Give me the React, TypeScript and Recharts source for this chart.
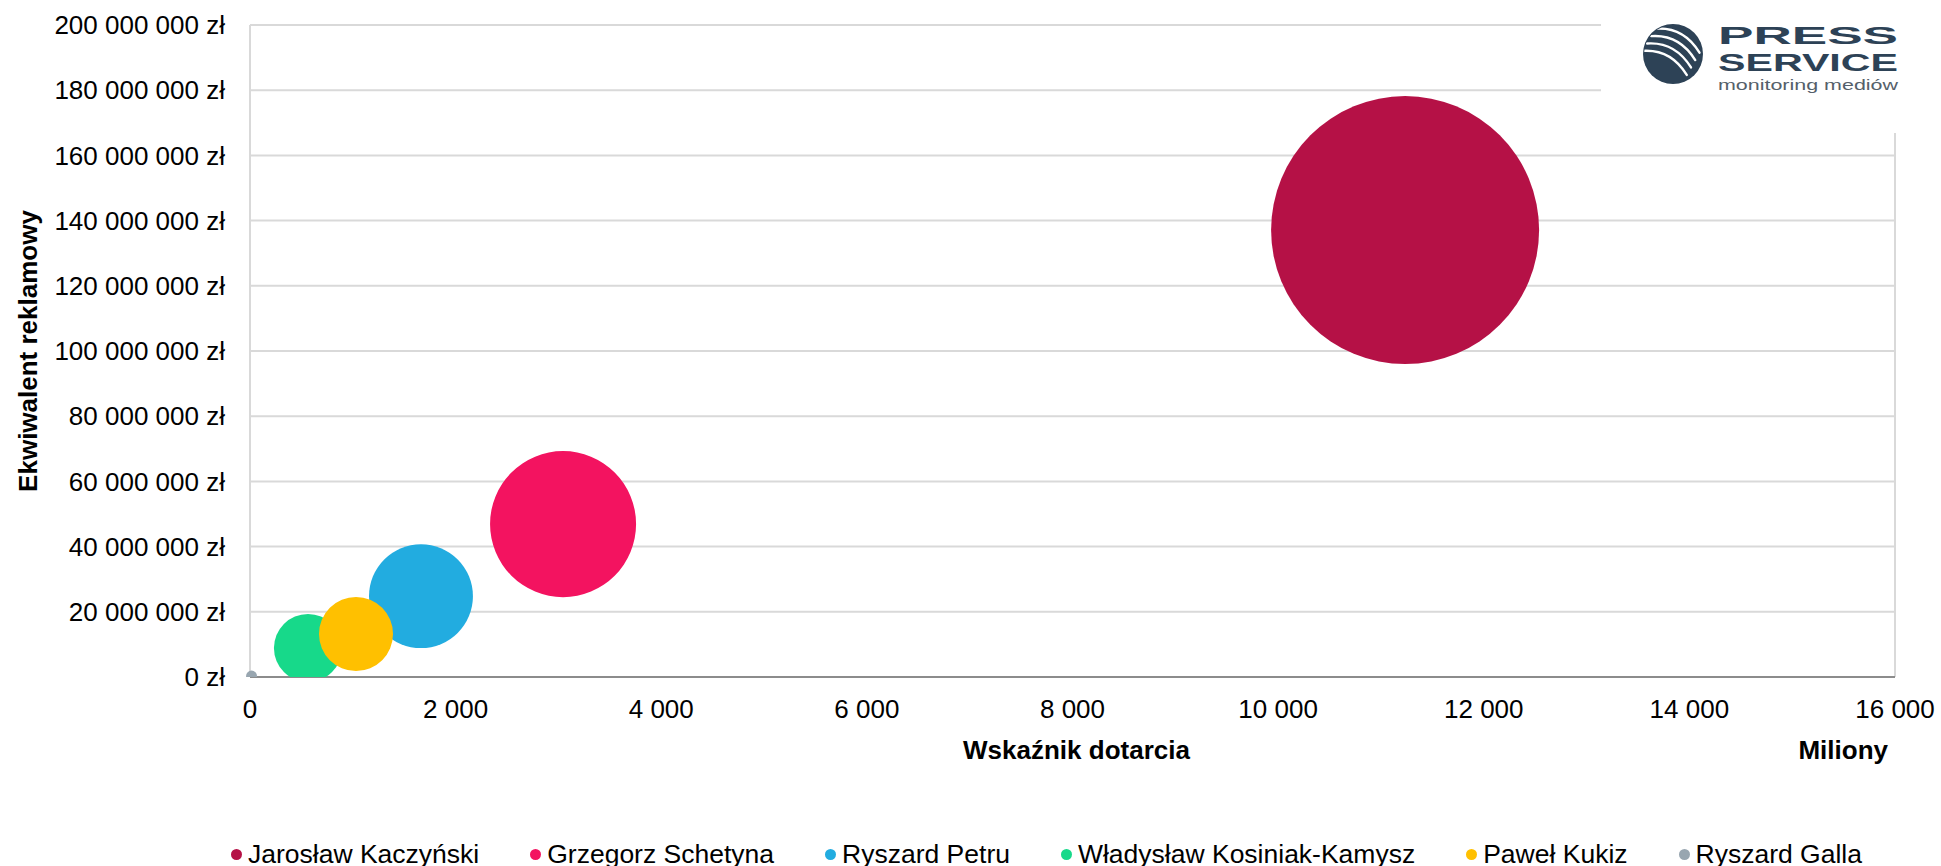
import React from 'react';
import {
  CartesianGrid,
  Label,
  Legend,
  ReferenceLine,
  Scatter,
  ScatterChart,
  XAxis,
  YAxis,
  ZAxis,
} from 'recharts';

const CANDIDATES = [
  'Jarosław Kaczyński',
  'Grzegorz Schetyna',
  'Ryszard Petru',
  'Władysław Kosiniak-Kamysz',
  'Paweł Kukiz',
  'Ryszard Galla',
];
// Wskaźnik dotarcia (miliony)
const REACH = [11235, 3045, 1663, 564, 1031, 15];
// Ekwiwalent reklamowy (zł)
const AD_VALUE = [137100000, 46900000, 24800000, 8900000, 13200000, 300000];
// bubble size
const BUBBLE_SIZE = [1796, 533, 270, 116, 137, 3];
const COLORS = ['#b51146', '#f31360', '#22ace0', '#17d98a', '#ffc000', '#98a6b0'];

const X_TICKS = [0, 2000, 4000, 6000, 8000, 10000, 12000, 14000, 16000];
const Y_TICKS = [0, 20000000, 40000000, 60000000, 80000000, 100000000, 120000000, 140000000, 160000000, 180000000, 200000000];

const FONT = '"Liberation Sans", Arial, sans-serif';
const MAX_RADIUS = 134;

const group = (v: number) => String(v).replace(/\B(?=(\d{3})+(?!\d))/g, ' ');

function LegendContent({ payload }: any) {
  // keep series order (recharts sorts legend items by name)
  const items = [...(payload || [])].sort(
    (a: any, b: any) => CANDIDATES.indexOf(a.value) - CANDIDATES.indexOf(b.value),
  );
  return (
    <div
      style={{
        display: 'flex',
        alignItems: 'center',
        height: 24,
        paddingLeft: 231,
        fontFamily: FONT,
        fontSize: 26.5,
        lineHeight: '24px',
        color: '#000',
      }}
    >
      {items.map((entry: any) => (
        <div key={entry.value} style={{ display: 'flex', alignItems: 'center', marginRight: 51 }}>
          <span
            style={{
              width: 11,
              height: 11,
              borderRadius: '50%',
              background: entry.color,
              marginRight: 6,
              display: 'inline-block',
            }}
          />
          <span style={{ whiteSpace: 'nowrap' }}>{entry.value}</span>
        </div>
      ))}
    </div>
  );
}

function Logo() {
  const cx = 72;
  const cy = 54;
  return (
    <svg width={340} height={133} style={{ position: 'absolute', left: 1601, top: 0 }}>
      <defs>
        <clipPath id="logo-circle">
          <circle cx={cx} cy={cy} r={29} />
        </clipPath>
      </defs>
      <rect x={0} y={0} width={340} height={133} fill="#fff" />
      <circle cx={cx} cy={cy} r={30} fill="#2d4256" />
      <g clipPath="url(#logo-circle)">
        {[-13, -4.5, 4, 12.5].map((d) => {
          const ox = -0.5 * d;
          const oy = 0.87 * d;
          return (
            <path
              key={d}
              d={`M ${cx - 24 + ox} ${cy - 14 + oy} Q ${cx + 4 + ox} ${cy - 16 + oy} ${cx + 20 + ox} ${cy + 10 + oy}`}
              stroke="#fff"
              strokeWidth={2.4}
              fill="none"
              strokeLinecap="round"
            />
          );
        })}
      </g>
      <text
        x={117}
        y={44}
        fontFamily={FONT}
        fontWeight="bold"
        fontSize={23}
        fill="#2d4256"
        textLength={180}
        lengthAdjust="spacingAndGlyphs"
      >
        PRESS
      </text>
      <text
        x={117}
        y={71}
        fontFamily={FONT}
        fontWeight="bold"
        fontSize={23}
        fill="#2d4256"
        textLength={180}
        lengthAdjust="spacingAndGlyphs"
      >
        SERVICE
      </text>
      <text
        x={117}
        y={90}
        fontFamily={FONT}
        fontSize={15}
        fill="#55606a"
        textLength={180}
        lengthAdjust="spacingAndGlyphs"
      >
        monitoring mediów
      </text>
    </svg>
  );
}

export default function App() {
  return (
    <div style={{ position: 'absolute', left: 0, top: 0, width: 1941, height: 866, background: '#fff', fontFamily: FONT }}>
      <ScatterChart width={1941} height={866} margin={{ top: 25, right: 46, left: 0, bottom: 0 }}>
        <CartesianGrid vertical={false} stroke="#d9d9d9" strokeWidth={2} />
        <XAxis
          type="number"
          dataKey="x"
          domain={[0, 16000]}
          ticks={X_TICKS}
          tickFormatter={group}
          height={165}
          tickSize={0}
          tickMargin={23}
          axisLine={{ stroke: '#8c8c8c', strokeWidth: 2 }}
          tick={{ fill: '#000', fontSize: 26, fontFamily: FONT }}
        >
          <Label
            content={({ viewBox }: any) => (
              <g fontFamily={FONT} fontSize={26} fontWeight="bold" fill="#000">
                <text x={viewBox.x + viewBox.width / 2 + 4} y={viewBox.y + 82} textAnchor="middle">
                  Wskaźnik dotarcia
                </text>
                <text x={viewBox.x + viewBox.width - 7} y={viewBox.y + 82} textAnchor="end">
                  Miliony
                </text>
              </g>
            )}
          />
        </XAxis>
        <YAxis
          type="number"
          dataKey="y"
          domain={[0, 200000000]}
          ticks={Y_TICKS}
          allowDataOverflow
          tickFormatter={(v: number) => `${group(v)} zł`}
          width={250}
          tickSize={0}
          tickMargin={25}
          axisLine={{ stroke: '#d9d9d9', strokeWidth: 2 }}
          tick={{ fill: '#000', fontSize: 26, fontFamily: FONT }}
        >
          <Label
            content={({ viewBox }: any) => {
              const x = 28;
              const y = viewBox.y + viewBox.height / 2;
              return (
                <text
                  x={x}
                  y={y}
                  transform={`rotate(-90 ${x} ${y})`}
                  textAnchor="middle"
                  dominantBaseline="central"
                  fontFamily={FONT}
                  fontSize={26}
                  fontWeight="bold"
                  fill="#000"
                >
                  Ekwiwalent reklamowy
                </text>
              );
            }}
          />
        </YAxis>
        <ZAxis
          type="number"
          dataKey="z"
          domain={[0, BUBBLE_SIZE[0]]}
          range={[0, Math.PI * MAX_RADIUS * MAX_RADIUS]}
        />
        <ReferenceLine x={16000} stroke="#d9d9d9" strokeWidth={2} />
        {CANDIDATES.map((name, i) => (
          <Scatter
            key={name}
            name={name}
            data={[{ x: REACH[i], y: AD_VALUE[i], z: BUBBLE_SIZE[i] }]}
            fill={COLORS[i]}
            isAnimationActive={false}
          />
        ))}
        <Legend
          verticalAlign="bottom"
          content={<LegendContent />}
          wrapperStyle={{ left: 0, width: 1941, bottom: 0 }}
        />
      </ScatterChart>
      <Logo />
    </div>
  );
}
